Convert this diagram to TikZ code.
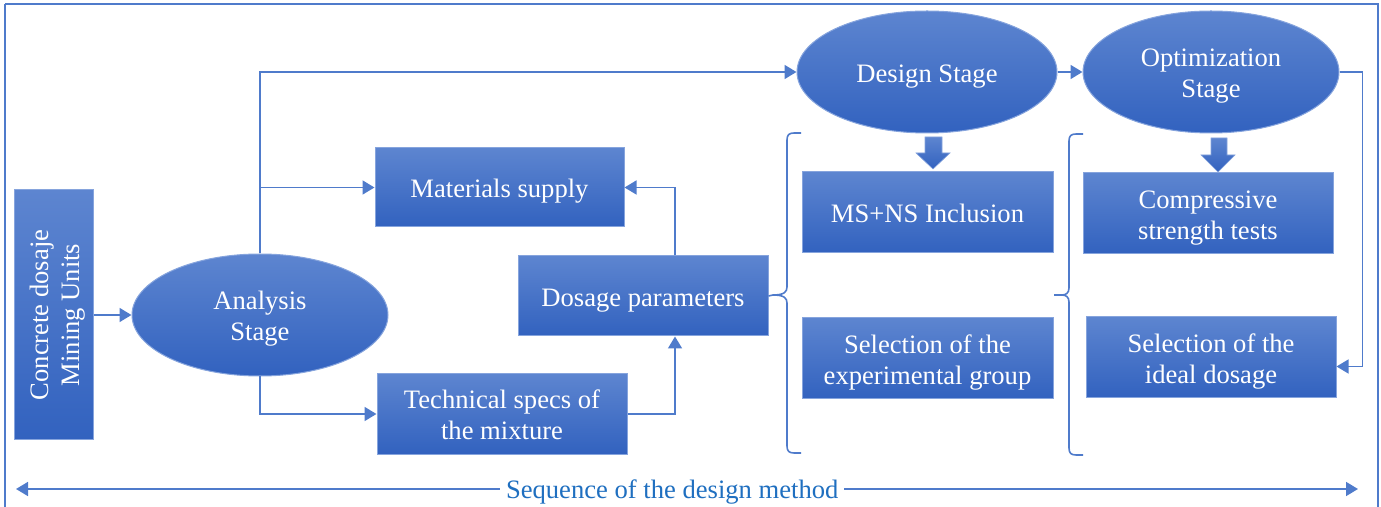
\documentclass[tikz,border=0pt]{standalone}
\usepackage{fontspec}
\setmainfont{Liberation Serif}
\usetikzlibrary{calc,arrows.meta,shapes.geometric}
\definecolor{lineblue}{HTML}{4F7BCB}
\definecolor{fillhi}{HTML}{5D85D0}
\definecolor{filllo}{HTML}{3262BF}
\definecolor{edgeblue}{HTML}{86A4DD}
\definecolor{labelblue}{HTML}{1F6FC0}
% centred lines, set slightly below the optical centre of the shape
\newcommand\lowtext[1]{\raisebox{-2pt}[\height][\depth]{\begin{tabular}{@{}c@{}}#1\end{tabular}}}
\tikzset{
  boxtext/.style={text=white,font=\fontsize{13.3}{15.5}\selectfont,inner sep=0pt},
  stagebox/.style={boxtext,rectangle,draw=edgeblue,line width=0.5pt,top color=fillhi,bottom color=filllo,
    minimum width=125pt,minimum height=40pt},
  stageoval/.style={boxtext,ellipse,draw=edgeblue,line width=0.5pt,top color=fillhi,bottom color=filllo},
  conn/.style={draw=lineblue,line width=0.8pt},
  arr/.style={conn,-{Triangle[length=6pt,width=7pt]}},
  blockarrow/.style={top color=fillhi,bottom color=filllo,draw=edgeblue,line width=0.3pt},
}
\begin{document}
\begin{tikzpicture}[x=0.5pt,y=-0.5pt]
\useasboundingbox (0,0) rectangle (1381,507);
% outer frame
\draw[lineblue,line width=0.6pt] (5,4) -- (1378,4) -- (1378,520) (5,4) -- (5,520);

% nodes
\node[stagebox,rotate=90,minimum width=125pt,minimum height=39.5pt] (conc) at (53.5,315) {\lowtext{Concrete dosaje\\Mining Units}};
\node[stageoval,minimum width=128pt,minimum height=61pt] (ana) at (260,315) {\lowtext{Analysis\\Stage}};
\node[stagebox,minimum width=124.5pt,minimum height=39.5pt] (mat) at (499.5,187.5) {\lowtext{Materials supply}};
\node[stagebox] (dos) at (643,296) {\lowtext{Dosage parameters}};
\node[stagebox] (tech) at (502,414) {\lowtext{Technical specs of\\the mixture}};
\node[stageoval,minimum width=130pt,minimum height=61pt] (des) at (927,72) {\lowtext{Design Stage}};
\node[stageoval,minimum width=128pt,minimum height=61pt] (opt) at (1211,72) {\lowtext{Optimization\\Stage}};
\node[stagebox,minimum width=125.5pt,minimum height=40.5pt] (msns) at (927.5,212.5) {\lowtext{MS+NS Inclusion}};
\node[stagebox,minimum width=125.5pt,minimum height=40.5pt] (selexp) at (927.5,358.5) {\lowtext{Selection of the\\experimental group}};
\node[stagebox,minimum width=125pt,minimum height=40.5pt] (comp) at (1208,213.5) {\lowtext{Compressive\\strength tests}};
\node[stagebox,minimum width=125pt,minimum height=40.5pt] (ideal) at (1211,357.5) {\lowtext{Selection of the\\ideal dosage}};

% block arrows under the stage ovals
\shade[blockarrow] (925,137) -- (942,137) -- (942,153) -- (950,153) -- (933,169) -- (916,153) -- (925,153) -- cycle;
\shade[blockarrow] (1211,138) -- (1227,138) -- (1227,155) -- (1235,155) -- (1218,172) -- (1201,155) -- (1211,155) -- cycle;

% braces
\coordinate (b1tip) at (773,295);
\coordinate (b2tip) at (1054,295);
\draw[conn] (801,133) -- (794,133) .. controls (789,133) and (787,135) .. (787,140) -- (787,287)
  .. controls (787,292) and (784,295) .. (b1tip)
  .. controls (784,295) and (787,298) .. (787,303) -- (787,446)
  .. controls (787,451) and (789,453) .. (794,453) -- (801,453);
\draw[conn] (1083,134) -- (1076,134) .. controls (1071,134) and (1069,136) .. (1069,141) -- (1069,288)
  .. controls (1069,293) and (1066,295) .. (1062,295) -- (b2tip) -- (1062,295)
  .. controls (1066,295) and (1069,297) .. (1069,302) -- (1069,448)
  .. controls (1069,453) and (1071,455) .. (1076,455) -- (1083,455);

% connectors
\draw[arr] (conc.south) -- (ana.west);
\draw[arr] (ana.north) |- (des.west);
\draw[arr] (ana.north |- mat.west) -- (mat.west);
\draw[arr] (ana.south) |- (tech.west);
\draw[arr] (tech.east) -| ($(dos.south)+(32,0)$);
\draw[arr] ($(dos.north)+(32,0)$) |- (mat.east);
\draw[conn] (dos.east) -- (b1tip);
\draw[arr] (des.east) -- (opt.west);
\draw[arr] (opt.east) -- ++(23,0) |- ($(ideal.east)+(0,9)$);

% sequence arrow along the bottom
\coordinate (seqL) at (16,489);
\coordinate (seqR) at (1358,489);
\draw[conn,{Triangle[length=6pt,width=7pt]}-{Triangle[length=6pt,width=7pt]}] (seqL) -- (seqR)
  node[pos=0.489,fill=white,inner xsep=3pt,inner ysep=1pt,text=labelblue,font=\fontsize{13.3}{15}\selectfont] (seq)
  {\raisebox{-1.5pt}[\height][\depth]{Sequence of the design method}};
\end{tikzpicture}
\end{document}
